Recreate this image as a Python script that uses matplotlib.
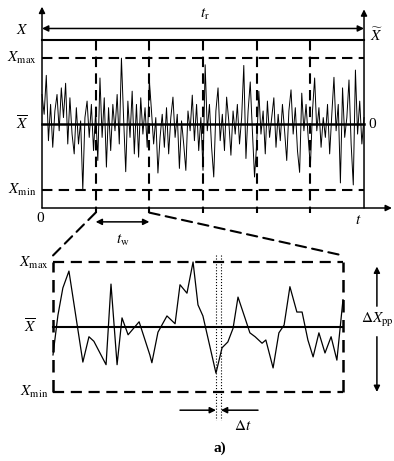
import numpy as np
import matplotlib as mpl
mpl.use('Agg')
import matplotlib.pyplot as plt
from matplotlib.patches import ConnectionPatch

plt.rcParams['mathtext.fontset'] = 'stix'
plt.rcParams['font.family'] = ['Liberation Serif', 'DejaVu Serif']

# top record: amplitude relative to mean, in units of (X_max - mean)
top_values = [
    0.45, 0.15, 0.74, -0.25, 0.30, -0.35, 0.20, 0.45, -0.10, 0.55,
    0.10, 0.62, -0.30, 0.40, -0.15, -0.45, 0.25, -0.30, 0.05, -1.00,
    0.10, 0.35, -0.20, 0.30, -0.40,
    0.20, -0.55, 0.70, -0.20, 0.40, -0.65, 0.25, -0.40, 0.30, -0.10,
    0.45, -0.30, 1.00, 0.10, -0.72, 0.35, -0.20, 0.50, -0.45, 0.30,
    -0.50, 0.40, -0.15, 0.25, -0.35,
    0.67, 0.20, -0.30, 0.10, -0.74, -0.20, 0.15, -0.35, 0.25, -0.45,
    0.10, 0.41, -0.20, 0.15, -0.67, 0.05, -0.30, -0.70, 0.20, -0.10,
    0.44, -0.25, 0.30, -0.40, 0.10,
    -0.70, 0.90, -0.10, 0.30, -0.35, -0.80, 0.20, 0.55, -0.25, 0.15,
    -0.40, 0.41, 0.05, -0.47, 0.20, -0.15, 0.30, -0.30, 0.10, 0.89,
    -0.52, 0.20, 0.64, -0.10, -0.80,
    -0.30, 0.50, -0.15, 0.20, -0.45, 0.35, -0.20, 0.10, 0.40, -0.35,
    0.15, -0.25, 0.30, -0.10, -0.55, 0.20, 0.52, -0.15, 0.25, -0.40,
    -0.73, 0.47, -0.10, 0.30, -0.20,
    -0.65, 0.20, 0.70, -0.10, 0.25, -0.35, 0.10, -0.20, 0.30, -0.45,
    0.15, 0.71, -0.10, 0.30, -0.89, 0.55, -0.20, 0.10, 0.67, -0.30,
    -0.92, 0.82, -0.15, 0.35, -0.30, 0.10,
]
t_total = 6          # record length t_r, in window units t_w
window_starts = [1, 2, 3, 4, 5]
top_times = np.linspace(0, t_total, len(top_values))

# zoomed window (t_w): position inside window 0..1 and amplitude
win_pos = [0.000, 0.017, 0.034, 0.055, 0.103, 0.124, 0.141, 0.183, 0.200, 0.221,
           0.238, 0.259, 0.297, 0.334, 0.341, 0.362, 0.393, 0.421, 0.438, 0.462,
           0.483, 0.500, 0.517, 0.562, 0.583, 0.603, 0.621, 0.638, 0.662, 0.679,
           0.697, 0.721, 0.734, 0.759, 0.779, 0.797, 0.817, 0.841, 0.859, 0.879,
           0.897, 0.917, 0.938, 0.959, 0.979, 1.000]
win_vals = [-0.43, 0.18, 0.60, 0.86, -0.54, -0.15, -0.22, -0.58, 0.66, -0.58,
            0.14, -0.12, 0.08, -0.43, -0.55, -0.08, 0.17, 0.05, 0.65, 0.52,
            1.00, 0.34, 0.17, -0.71, -0.32, -0.23, -0.02, 0.46, 0.14, -0.09,
            -0.15, -0.25, -0.20, -0.63, -0.09, 0.03, 0.62, 0.23, 0.23, -0.20,
            -0.46, -0.09, -0.40, -0.15, -0.51, 0.42]
dt_pos = [0.562, 0.579]

fig = plt.figure(figsize=(3.94, 4.61), dpi=100)
ax = fig.add_axes([0.1066, 0.5488, 0.8173, 0.4338])
bx = fig.add_axes([0.1345, 0.1497, 0.7360, 0.2820])
for a in (ax, bx):
    a.axis('off')
ax.set_xlim(0, t_total)
ax.set_ylim(-1.27, 1.76)
bx.set_xlim(0, 1)
bx.set_ylim(-1, 1)

dash = (0, (5, 3))
kw = dict(color='k', clip_on=False)
arrow = dict(arrowstyle='-|>', color='k', lw=1.1, mutation_scale=9,
             shrinkA=0, shrinkB=0)
darrow = dict(arrow, arrowstyle='<|-|>')


def draw_arrow(a, tip, tail, props=arrow):
    a.annotate('', xy=tip, xytext=tail, arrowprops=props,
               annotation_clip=False)


# ---- top panel
ax.plot(top_times, top_values, lw=0.7, **kw)
ax.plot([0, t_total], [0, 0], lw=1.8, **kw)
ax.plot([0, t_total], [1, 1], lw=1.5, ls=dash, **kw)
ax.plot([0, t_total], [-1, -1], lw=1.5, ls=dash, **kw)
ax.plot([0, t_total], [1.27, 1.27], lw=1.5, **kw)
for s in window_starts:
    ax.plot([s, s], [1.27, -1.34], lw=1.5, ls=dash, **kw)
draw_arrow(ax, (0, 1.78), (0, -1.27))
draw_arrow(ax, (t_total, 1.74), (t_total, -1.27))
draw_arrow(ax, (6.52, -1.27), (0, -1.27))
draw_arrow(ax, (0, 1.45), (t_total, 1.45), darrow)
draw_arrow(ax, (1, -1.48), (2, -1.48), darrow)

tk = dict(ha='center', va='center', fontsize=11, clip_on=False)
ax.text(-0.37, 1.42, r'$X$', **tk)
ax.text(-0.37, 1.0, r'$X_{\rm max}$', **tk)
ax.text(-0.37, 0.0, r'$\overline{X}$', **tk)
ax.text(-0.37, -1.0, r'$X_{\rm min}$', **tk)
ax.text(-0.04, -1.43, '0', **tk)
ax.text(5.89, -1.46, r'$t$', **tk)
ax.text(3.04, 1.67, r'$t_{\rm r}$', **tk)
ax.text(6.24, 1.35, r'$\widetilde{X}$', **tk)
ax.text(6.15, 0.0, '0', **tk)
ax.text(1.51, -1.76, r'$t_{\rm w}$', **tk)

# zoom connectors
for sx, bxx in [(1, 0), (2, 1)]:
    con = ConnectionPatch(xyA=(sx, -1.34), coordsA=ax.transData,
                          xyB=(bxx, 1.1), coordsB=bx.transData,
                          color='k', lw=1.5, ls=dash)
    fig.add_artist(con)

# ---- bottom panel
bx.plot(win_pos, win_vals, lw=0.9, **kw)
bx.plot([0, 1], [0, 0], lw=1.5, **kw)
bx.plot([0, 1], [1, 1], lw=1.6, ls=dash, **kw)
bx.plot([0, 1], [-1, -1], lw=1.6, ls=dash, **kw)
bx.plot([0, 0], [-1, 1], lw=1.8, ls=dash, **kw)
bx.plot([1, 1], [-1, 1], lw=1.8, ls=dash, **kw)
for p in dt_pos:
    bx.plot([p, p], [1.11, -1.43], lw=0.8, ls=':', **kw)
draw_arrow(bx, (dt_pos[0], -1.28), (0.438, -1.28))
draw_arrow(bx, (dt_pos[1], -1.28), (0.707, -1.28))
draw_arrow(bx, (1.117, 0.93), (1.117, 0.32))
draw_arrow(bx, (1.117, -1.0), (1.117, -0.15))

bx.text(-0.065, 0.98, r'$X_{\rm max}$', **tk)
bx.text(-0.08, 0.0, r'$\overline{X}$', **tk)
bx.text(-0.065, -1.0, r'$X_{\rm min}$', **tk)
bx.text(1.117, 0.1, r'$\Delta X_{\rm pp}$', **tk)
bx.text(0.655, -1.52, r'$\Delta t$', **tk)
bx.text(0.576, -1.87, 'a)', ha='center', va='center', fontsize=11,
        fontweight='bold', clip_on=False)

fig.savefig('out.png', dpi=100)
